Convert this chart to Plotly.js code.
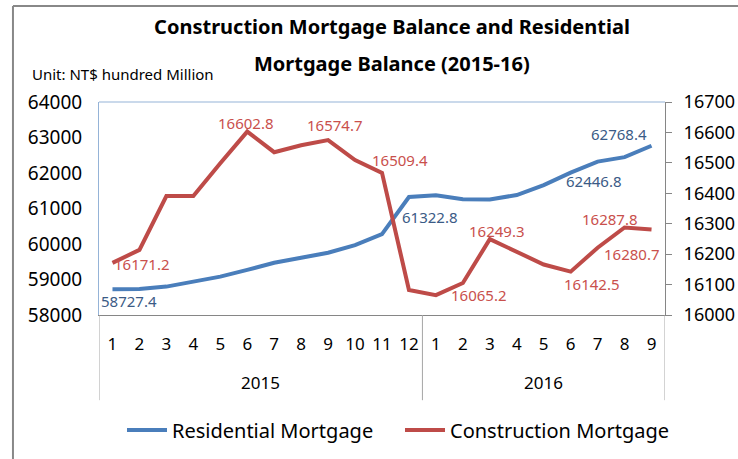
<!DOCTYPE html>
<html>
<head>
<meta charset="utf-8">
<script src="https://cdn.plot.ly/plotly-3.0.1.min.js"></script>
<style>html,body{margin:0;padding:0;background:#fff;}#chart{width:738px;height:459px;}</style>
</head>
<body>
<div id="chart"></div>
<script>
// ---- data ----
const years  = ["2015","2015","2015","2015","2015","2015","2015","2015","2015","2015","2015","2015",
                "2016","2016","2016","2016","2016","2016","2016","2016","2016"];
const months = ["1","2","3","4","5","6","7","8","9","10","11","12",
                "1","2","3","4","5","6","7","8","9"];
const residential = [58727.4, 58730, 58800, 58940, 59080, 59270, 59470, 59615, 59755, 59970, 60280, 61322.8,
                     61370, 61260, 61255, 61380, 61660, 62010, 62320, 62446.8, 62768.4];
const construction = [16171.2, 16214, 16391, 16391, 16499, 16602.8, 16535, 16558, 16574.7, 16509.4, 16467, 16082,
                      16065.2, 16105, 16249.3, 16207, 16166, 16142.5, 16221, 16287.8, 16280.7];
// labelled points: index, x-shift, y-shift (px)
const resLabelIdx = [0, 11, 19, 20];
const resLabelDx  = [17, 21, -31, -33];
const resLabelDy  = [-12, -20, -24, 12];
const conLabelIdx = [0, 5, 8, 9, 12, 14, 17, 19, 20];
const conLabelDx  = [30, -1, 7, 45, 43, 7, 21, -15, -20];
const conLabelDy  = [-1, 9, 15, 0, 0, 8, -12, 8, -24];

const BLUE = "#4a7ebb", RED = "#be4b48";
const FONT = "Noto Sans, Liberation Sans, sans-serif";

const idx = months.map((_, i) => i);

const annotations = [];
resLabelIdx.forEach((i, k) => annotations.push({
  x: i, y: residential[i], xref: "x", yref: "y", text: String(residential[i]),
  showarrow: false, xshift: resLabelDx[k], yshift: resLabelDy[k],
  font: {family: FONT, size: 15, color: "#3b5b86"}
}));
conLabelIdx.forEach((i, k) => annotations.push({
  x: i, y: construction[i], xref: "x", yref: "y2", text: String(construction[i]),
  showarrow: false, xshift: conLabelDx[k], yshift: conLabelDy[k],
  font: {family: FONT, size: 15, color: "#c9504c"}
}));

// year groups -> centred labels and dividers (derived from the years array)
const groups = [];
years.forEach((y, i) => {
  if (!groups.length || groups[groups.length - 1].name !== y) groups.push({name: y, start: i, end: i});
  else groups[groups.length - 1].end = i;
});
const shapes = [];
groups.forEach((g, k) => {
  annotations.push({
    x: (g.start + g.end) / 2, xref: "x", y: -0.319, yref: "paper", yanchor: "middle",
    text: g.name, showarrow: false, font: {family: FONT, size: 17, color: "#000"}
  });
  const bounds = k === 0 ? [g.start - 0.5, g.end + 0.5] : [g.end + 0.5];
  bounds.forEach(b => shapes.push({
    type: "line", xref: "x", yref: "paper", x0: b, x1: b, y0: 0, y1: -0.40,
    line: {color: "#a6a6a6", width: 1}
  }));
});

annotations.push({
  xref: "paper", yref: "paper", x: 0.5177, y: 1.179, xanchor: "center", yanchor: "middle",
  text: "<b>Mortgage Balance (2015-16)</b>", showarrow: false,
  font: {family: FONT, size: 20, color: "#000"}
});
annotations.push({
  xref: "paper", yref: "paper", x: -0.1219, y: 1.1315, xanchor: "left", yanchor: "middle",
  text: "Unit: NT$ hundred Million", showarrow: false,
  font: {family: FONT, size: 15, color: "#000"}
});

shapes.push(
  {type: "line", xref: "paper", yref: "paper", x0: 0, x1: 1, y0: 1, y1: 1,
   line: {color: "#95b3d7", width: 1}},
  {type: "line", xref: "paper", yref: "paper", x0: -0.152, x1: 1.13, y0: 1.4507, y1: 1.4507,
   line: {color: "#888", width: 2}},
  {type: "line", xref: "paper", yref: "paper", x0: -0.152, x1: -0.152, y0: 1.4507, y1: -0.68,
   line: {color: "#888", width: 2}}
);

const traces = [
  {x: idx, y: residential, type: "scatter", mode: "lines", name: "Residential Mortgage",
   line: {color: BLUE, width: 4}, yaxis: "y", legend: "legend"},
  {x: idx, y: construction, type: "scatter", mode: "lines", name: "Construction Mortgage",
   line: {color: RED, width: 4}, yaxis: "y2", legend: "legend2"}
];

const legendBase = {orientation: "h", xref: "container", yref: "container", xanchor: "left",
  y: 1 - 430 / 459, yanchor: "middle", font: {family: FONT, size: 20, color: "#000"},
  itemwidth: 40, bgcolor: "rgba(0,0,0,0)"};

const layout = {
  width: 738, height: 459,
  margin: {l: 99, r: 73, t: 102, b: 144, autoexpand: false},
  paper_bgcolor: "#fff", plot_bgcolor: "#fff",
  font: {family: FONT, color: "#000"},
  title: {text: "<b>Construction Mortgage Balance and Residential</b>", x: 0.5177, xref: "paper",
          xanchor: "center", y: 0.941, yanchor: "middle", font: {family: FONT, size: 20, color: "#000"}},
  xaxis: {range: [-0.5, months.length - 0.5], tickvals: idx, ticktext: months, tickangle: 0,
          showgrid: false, zeroline: false, showline: true, linecolor: "#868686",
          linewidth: 1, ticks: "", ticklabelstandoff: 14, tickfont: {family: FONT, size: 17, color: "#000"}},
  yaxis: {range: [58000, 64000], dtick: 1000, tickformat: "d", showgrid: false, zeroline: false, showline: true,
          linecolor: "#95b3d7", linewidth: 1, ticks: "", ticklabelstandoff: 12,
          tickfont: {family: FONT, size: 19, color: "#000"}},
  yaxis2: {range: [16000, 16700], dtick: 100, tickformat: "d", overlaying: "y", side: "right", showgrid: false,
           zeroline: false, showline: true, linecolor: "#868686", linewidth: 1, ticks: "outside",
           ticklen: 6, tickcolor: "#868686", ticklabelstandoff: 8,
           tickfont: {family: FONT, size: 18, color: "#000"}},
  legend: Object.assign({}, legendBase, {x: 122 / 738}),
  legend2: Object.assign({}, legendBase, {x: 400 / 738}),
  showlegend: true,
  annotations: annotations,
  shapes: shapes
};

Plotly.newPlot("chart", traces, layout, {displayModeBar: false, staticPlot: true});
</script>
</body>
</html>
